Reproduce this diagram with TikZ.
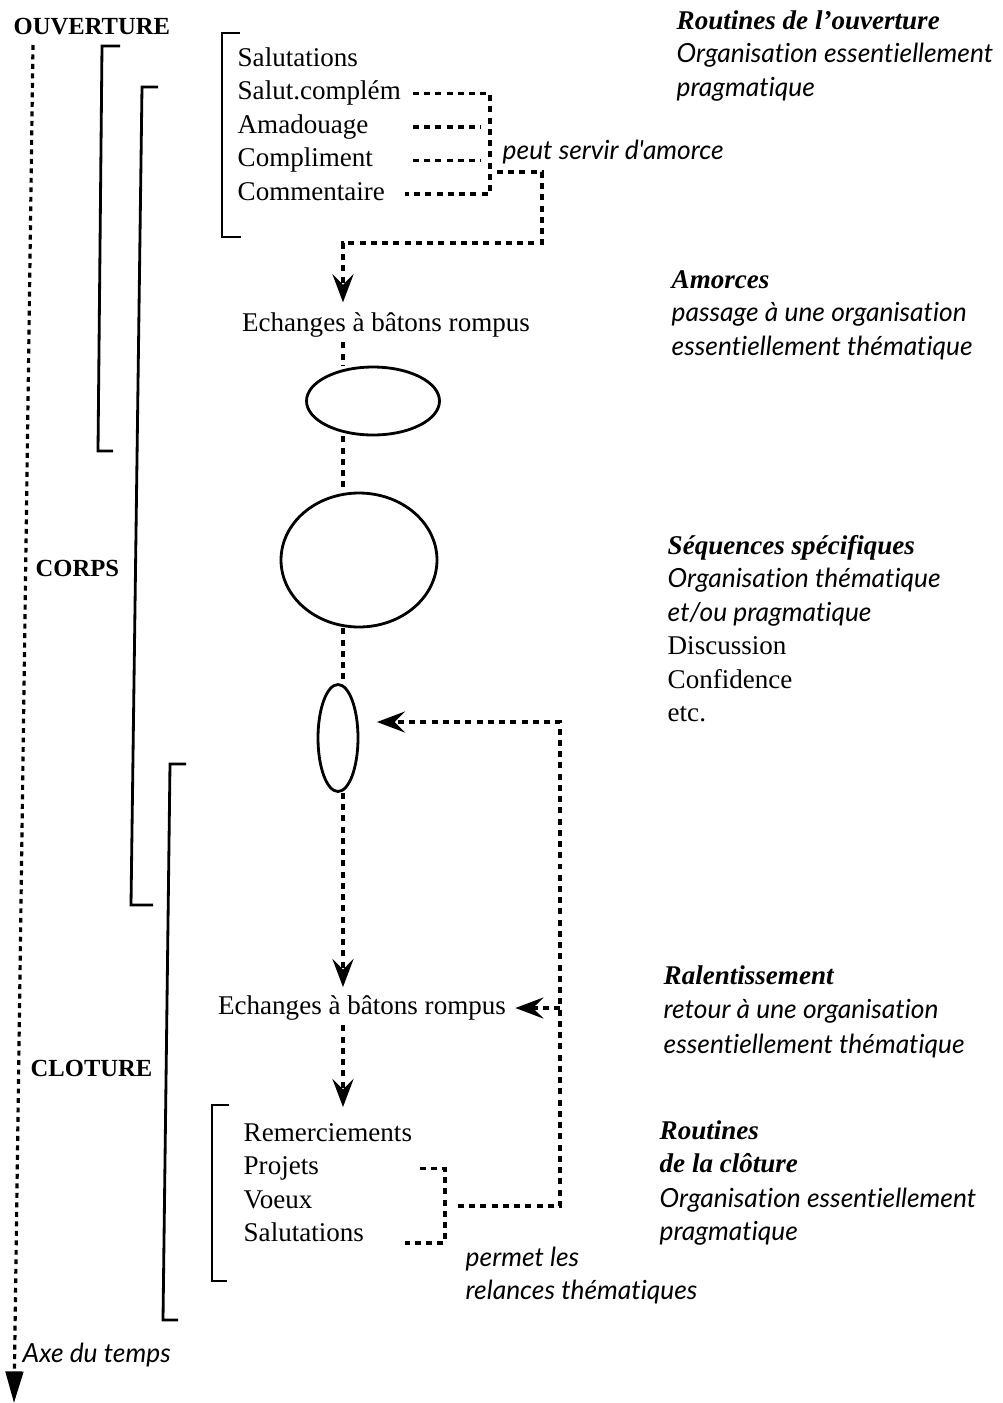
\documentclass[tikz,border=0pt]{standalone}
\usepackage{fontspec}
\setmainfont{Liberation Serif}
\newfontfamily\descfont{Lato}[Ligatures=NoCommon]
\usetikzlibrary{positioning,arrows.meta,shapes.geometric}

\begin{document}
\begin{tikzpicture}[x=0.02cm,y=-0.02cm,thick,
    txt/.style={inner sep=0pt,text height=11pt,text depth=4pt,font=\fontsize{15.4}{18.8}\selectfont},
    item/.style={txt,anchor=west},
    head/.style={txt,anchor=west,font=\fontsize{15.4}{18.8}\selectfont\bfseries\itshape},
    desc/.style={txt,anchor=west,font=\fontsize{15}{18}\selectfont\descfont\itshape},
    part/.style={txt,anchor=west,font=\fontsize{14}{17}\selectfont\bfseries},
    brack/.style={line width=1.6pt},
    dotline/.style={line width=1.8pt,dash pattern=on 3.4pt off 3pt},
    arr/.style={-{Stealth[length=16pt,width=12pt,inset=6pt]}},
    oval/.style={ellipse,draw,line width=1.6pt,inner sep=0pt}]

  \useasboundingbox (0,0) rectangle (1003,1403);

  % time axis
  \node[part] (ouv) at (13,28) {OUVERTURE};
  \node[part] (corps) at (35,570) {CORPS};
  \node[part] (clot) at (30,1070) {CLOTURE};
  \node[desc] (axe) at (22,1356) {Axe du temps};
  \coordinate (axT) at (33,45);
  \coordinate (axB) at (14,1403);
  \draw[line width=1.8pt,dash pattern=on 2.8pt off 2.6pt,-{Triangle[length=18pt,width=10pt]}] (axT) -- (axB);

  % brackets
  \draw[brack] (120,46) -- (102,46) -- (98,451) -- (113,451);
  \draw[brack] (158,87) -- (142,87) -- (131,905) -- (153,905);
  \draw[brack] (186,764) -- (170,764) -- (163,1320) -- (178,1320);
  \draw[brack] (240,33) -- (222,33) -- (222,237) -- (241,237);
  \draw[brack] (229,1105) -- (212,1105) -- (212,1281) -- (227,1281);

  % opening routines
  \node[item] (sal) at (237,60) {Salutations};
  \node[item, below=0.67cm of sal.west, anchor=west] (scp) {Salut.complém};
  \node[item, below=0.67cm of scp.west, anchor=west] (ama) {Amadouage};
  \node[item, below=0.67cm of ama.west, anchor=west] (cpl) {Compliment};
  \node[item, below=0.67cm of cpl.west, anchor=west] (com) {Commentaire};

  \coordinate (dL) at (413,0);
  \coordinate (dR) at (490,0);
  \coordinate (dRs) at (481,0);
  \coordinate (dC) at (405,0);
  \draw[dotline] (dL |- scp) -- (dR |- scp) -- (dR |- com) -- (dC |- com);
  \draw[dotline] (dL |- ama) -- (dRs |- ama);
  \draw[dotline] (dL |- cpl) -- (dRs |- cpl);
  \node[desc] (amorce) at (502,153) {peut servir d'amorce};

  % middle column
  \coordinate (spine) at (343,0);
  \node[txt] (ech1) at (386,325) {Echanges à bâtons rompus};
  \node[oval, minimum width=2.66cm, minimum height=1.36cm] (e1) at (373,401) {};
  \node[oval, minimum width=3.12cm, minimum height=2.68cm] (e2) at (359,560) {};
  \node[oval, minimum width=0.8cm, minimum height=2.14cm] (e3) at (338,738) {};
  \node[txt] (ech2) at (362,1008) {Echanges à bâtons rompus};

  \coordinate (brA) at (497,172);
  \coordinate (brB) at (542,243);
  \draw[dotline,arr] (brA) -| (brB) -| ([yshift=5pt]ech1.north -| spine);
  \draw[dotline] ([yshift=-2pt]ech1.south -| spine) -- (e1.north -| spine);
  \draw[dotline] (e1.south -| spine) -- (e2.north -| spine);
  \draw[dotline] (e2.south -| spine) -- (e3.north -| spine);
  \draw[dotline,arr] (e3.south -| spine) -- ([yshift=4pt]ech2.north -| spine);

  % closing routines
  \node[item] (rem) at (243,1135) {Remerciements};
  \node[item, below=0.67cm of rem.west, anchor=west] (proj) {Projets};
  \node[item, below=0.67cm of proj.west, anchor=west] (voe) {Voeux};
  \node[item, below=0.67cm of voe.west, anchor=west] (salc) {Salutations};
  \draw[dotline,arr] ([yshift=-2pt]ech2.south -| spine) -- ([yshift=8pt]rem.north -| spine);

  \coordinate (lpL) at (420,0);
  \coordinate (lpR) at (445,1243);
  \coordinate (lpS) at (405,0);
  \draw[dotline] (lpL |- proj) -- (lpR |- proj) -- (lpR) -- (lpS |- lpR);
  \node[desc] (perm) at (465,1260) {permet les};
  \node[desc, below=0.67cm of perm.west, anchor=west] (rel) {relances thématiques};

  \coordinate (brC) at (458,1206);
  \coordinate (brD) at (560,722);
  \draw[dotline,arr] (brC) -| (brD) -- ([xshift=10pt]e3.east |- brD);
  \draw[dotline,arr] (brD |- ech2) -- ([xshift=5pt]ech2.east);

  % right column
  \node[head] (rtO1) at (676,23) {Routines de l'ouverture};
  \node[desc, below=0.67cm of rtO1.west, anchor=west] (rtO2) {Organisation essentiellement};
  \node[desc, below=0.67cm of rtO2.west, anchor=west] (rtO3) {pragmatique};

  \node[head] (rtA1) at (671,282) {Amorces};
  \node[desc, below=0.67cm of rtA1.west, anchor=west] (rtA2) {passage à une organisation};
  \node[desc, below=0.67cm of rtA2.west, anchor=west] (rtA3) {essentiellement thématique};

  \node[head] (rtS1) at (667,548) {Séquences spécifiques};
  \node[desc, below=0.67cm of rtS1.west, anchor=west] (rtS2) {Organisation thématique};
  \node[desc, below=0.67cm of rtS2.west, anchor=west] (rtS3) {et/ou pragmatique};
  \node[item, below=0.67cm of rtS3.west, anchor=west] (rtS4) {Discussion};
  \node[item, below=0.67cm of rtS4.west, anchor=west] (rtS5) {Confidence};
  \node[item, below=0.67cm of rtS5.west, anchor=west] (rtS6) {etc.};

  \node[head] (rtR1) at (663,978) {Ralentissement};
  \node[desc, below=0.69cm of rtR1.west, anchor=west] (rtR2) {retour à une organisation};
  \node[desc, below=0.69cm of rtR2.west, anchor=west] (rtR3) {essentiellement thématique};

  \node[head] (rtC1) at (659,1133) {Routines};
  \node[head, below=0.67cm of rtC1.west, anchor=west] (rtC2) {de la clôture};
  \node[desc, below=0.69cm of rtC2.west, anchor=west] (rtC3) {Organisation essentiellement};
  \node[desc, below=0.67cm of rtC3.west, anchor=west] (rtC4) {pragmatique};
\end{tikzpicture}
\end{document}
